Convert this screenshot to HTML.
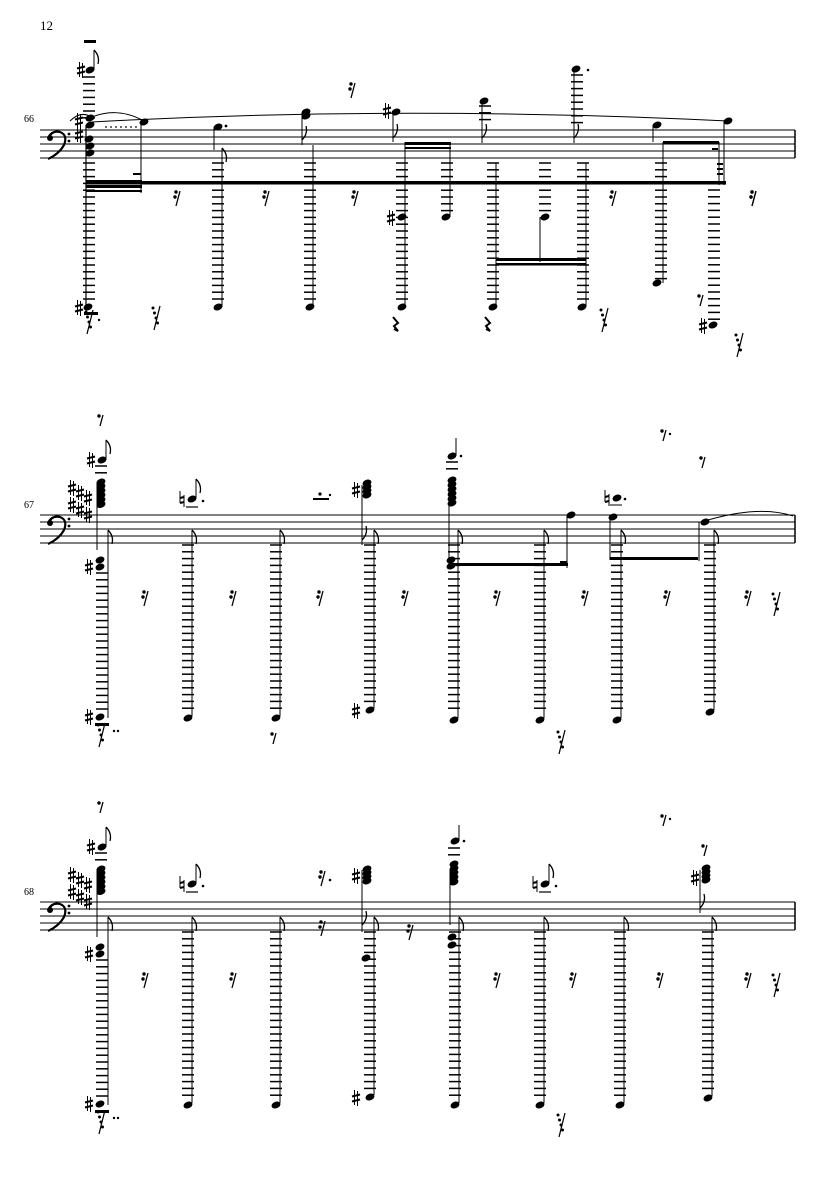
<!DOCTYPE html>
<html><head><meta charset="utf-8">
<style>
html,body{margin:0;padding:0;background:#fff;}
svg{display:block;}
text{font-family:"Liberation Serif","DejaVu Serif",serif;}
</style></head>
<body>
<svg id="s" width="835" height="1181" viewBox="0 0 835 1181" xmlns="http://www.w3.org/2000/svg">
<text x="40" y="30" font-size="13">12</text>
<text x="24" y="122" font-size="10">66</text>
<text x="24" y="508" font-size="10">67</text>
<text x="24" y="895" font-size="10">68</text>
<g id="g"></g>
</svg>
<script>
var g=document.getElementById('g'),o='';
function L(x1,y1,x2,y2,w){o+='<line x1="'+x1+'" y1="'+y1+'" x2="'+x2+'" y2="'+y2+'" stroke="#000" stroke-width="'+(w||1)+'"/>';}
function R(x,y,w,h){o+='<rect x="'+x+'" y="'+y+'" width="'+w+'" height="'+h+'" fill="#000"/>';}
function H(x,y){o+='<ellipse cx="'+x+'" cy="'+y+'" rx="4.6" ry="3.3" transform="rotate(-22 '+x+' '+y+')" fill="#000"/>';}
function sh(x,y){L(x-1.5,y-8,x-1.5,y+7,1);L(x+1.5,y-7,x+1.5,y+8,1);L(x-4,y-1.5,x+4,y-3.5,2);L(x-4,y+3.5,x+4,y+1.5,2);}
function nat(x,y){L(x-2,y-8,x-2,y+4,1);L(x+2,y-4,x+2,y+8,1);L(x-2,y-1,x+2,y-2,2);L(x-2,y+4,x+2,y+3,2);}
function led(x,y1,y2){for(var y=y1;y<=y2;y+=6.8)L(x-6,y,x+6,y,1.5);}
function flag(x,y,d){o+='<path d="M'+x+' '+y+' q6 '+(6*d)+' 4 '+(14*d)+'" stroke="#000" stroke-width="1.3" fill="none"/>';}
function r16(x,y){L(x+3,y-7,x-1,y+8,1.3);o+='<circle cx="'+(x-1)+'" cy="'+(y-6)+'" r="1.7"/><circle cx="'+(x-2)+'" cy="'+(y-1)+'" r="1.7"/>';}
function r8(x,y){L(x+3,y-5,x,y+6,1.3);o+='<circle cx="'+(x-1)+'" cy="'+(y-4)+'" r="1.7"/>';}
function r32(x,y){L(x+5,y-12,x-1,y+12,1.2);for(var i=0;i<4;i++)o+='<circle cx="'+(x-1+i*1.5-1)+'" cy="'+(y-10+i*5)+'" r="1.5"/>';}
function rq(x,y){o+='<path d="M'+(x-2)+' '+(y-8)+' l5 6 l-4 3 l4 5 l-4 -2" stroke="#000" stroke-width="2" fill="none"/>';}
function staff(t){for(var i=0;i<5;i++)L(40,t+i*7,795,t+i*7,1);L(795,t,795,t+28,1.5);
 o+='<path d="M48 '+(t+8)+' q4 -8 12 -6 q8 3 4 13 q-5 9 -16 14" stroke="#000" stroke-width="2.2" fill="none"/><circle cx="50" cy="'+(t+8)+'" r="3"/><circle cx="69" cy="'+(t+4)+'" r="1.4"/><circle cx="69" cy="'+(t+11)+'" r="1.4"/>';}

/* ---------- STAFF 1 ---------- */
staff(130);
R(84,40,12,3);
H(90,70);sh(81,70);L(94,70,94,50);flag(94,50,1);led(89,77,122);
H(90,118);H(90,125);H(89,139);H(90,146);H(90,153);sh(79,121);sh(79,135);
o+='<path d="M70 121 q12 -12 24 -2" stroke="#000" fill="none"/>';
o+='<path d="M92 117 q25 -10 50 3" stroke="#000" fill="none"/>';
for(var i=0;i<7;i++)o+='<circle cx="'+(106+i*5)+'" cy="127" r="0.9"/>';
H(144,122);L(141,122,141,193,1);R(133,173,8,2);
R(86,180,56,3);R(86,185,56,3);R(86,190,56,2);
L(86,125,86,308,1.2);led(89,163,302);H(88,307);sh(79,308);
R(84,312,14,3);r32(88,322);o+='<circle cx="99" cy="320" r="1.2"/>';r32(155,318);
R(86,181,640,3.5);
o+='<path d="M92 122 Q400 105 728 121" stroke="#000" stroke-width="1" fill="none"/>';
H(218,127);o+='<circle cx="226" cy="126" r="1.4"/>';L(214,127,214,150);
L(222,148,222,307,1);led(218,163,302);flag(222,148,1);H(218,307);
r16(177,198);r16(266,198);r16(355,198);r16(352,90);r16(613,198);r16(753,198);
H(306,112);H(306,116);L(302,113,302,145);flag(302,140,-1);L(313,145,313,307);led(310,163,302);H(310,307);
H(396,112);sh(387,111);L(393,113,393,142);flag(393,138,-1);
R(405,142,46,3);R(405,147,46,2);L(405,142,405,307);led(402,163,302);H(402,307);H(402,217);sh(391,218);
L(450,142,450,217);led(447,163,212);H(446,217);rq(395,325);rq(487,325);
H(484,101);led(485,106,126);L(482,101,482,143);flag(482,138,-1);
L(496,163,496,307);led(493,163,302);H(493,307);
R(496,258,90,3);R(496,263,90,2.5);L(540,217,540,262);led(545,163,212);H(545,217);
H(576,69);o+='<circle cx="588" cy="70" r="1.3"/>';led(577,75,126);L(574,69,574,143);flag(574,138,-1);
L(586,163,586,307);led(583,163,302);H(582,307);r32(603,320);
H(657,125);L(653,125,653,142);R(663,141,56,3);L(663,142,663,283);led(661,163,280);H(657,283);
R(712,148,6,2);L(719,142,719,185);R(717,163,6,2);R(717,168,6,2);R(717,173,6,2);
H(728,121);L(724,121,724,185);led(714,190,320);H(713,325);sh(703,326);r8(700,300);r16(753,198);r32(738,345);

/* ---------- STAFF 2/3 ---------- */
function bigcol(t){
 r8(100,t-95);H(102,t-55);sh(91,t-55);L(106,t-55,106,t-75);flag(106,t-75,1);
 led(101,t-49,t-36);
 for(var k=0;k<6;k++)H(101,t-33+k*4.5);
 sh(72,t-27);sh(80,t-22);sh(88,t-17);sh(72,t-10);sh(80,t-5);sh(88,t);
 L(97,t-33,97,t+35,1);L(108,t+15,108,t+203);flag(108,t+15,1);
 H(100,t+45);H(100,t+52);sh(89,t+52);led(102,t+58,t+198);H(100,t+202);sh(89,t+202);
 R(95,t+208,14,3);r32(100,t+220);o+='<circle cx="114" cy="'+(t+216)+'" r="1.2"/><circle cx="118" cy="'+(t+216)+'" r="1.2"/>';
}
function simple(x,t,yb){L(x+4,t+15,x+4,yb,1);flag(x+4,t+15,1);led(x,t+30,yb-4);H(x,yb+2);}
function upnat(x,y){H(x,y);nat(x-10,y);L(x+4,y,x+4,y-20);flag(x+4,y-20,1);o+='<circle cx="'+(x+11)+'" cy="'+(y+2)+'" r="1.3"/>';L(x-6,y+8,x+6,y+8,1.2);}
staff(515);bigcol(515);
upnat(192,499);simple(188,515,716);
simple(276,515,716);r8(273,738);
R(313,498,16,2);o+='<circle cx="320" cy="494" r="1.6"/><circle cx="330" cy="495" r="1.2"/>';
for(var k=0;k<4;k++)H(367,483+k*4);sh(356,490);L(362,485,362,545);flag(362,540,-1);
simple(370,515,708);sh(356,711);
[145,233,320,405,497,585,667,748].forEach(function(x){r16(x,598);});
H(452,456);o+='<circle cx="461" cy="456" r="1.3"/>';L(456,456,456,438);led(452,462,475);
for(var k=0;k<6;k++)H(452,480+k*4.6);L(449,484,449,567);H(451,560);H(451,566);
simple(454,515,718);R(454,563,114,3);
H(571,515);L(567,515,567,568);R(560,561,7,2);simple(540,515,718);r32(560,742);
H(617,498);nat(607,498);o+='<circle cx="625" cy="499" r="1.3"/>';L(610,505,622,505);
H(613,517);L(610,517,610,560);R(610,557,88,3);simple(617,515,718);
H(705,522);L(699,522,699,561);simple(710,515,710);
o+='<path d="M708 520 Q760 505 793 516" stroke="#000" fill="none"/>';
r8(663,435);r8(702,462);o+='<circle cx="670" cy="434" r="1.2"/>';r32(775,604);

staff(902);bigcol(902);
upnat(192,884);simple(188,902,1103);simple(276,902,1103);
r16(322,928);r16(322,878);o+='<circle cx="330" cy="880" r="1.3"/>';
for(var k=0;k<4;k++)H(367,869+k*4);sh(356,876);L(362,870,362,932);flag(362,925,-1);
simple(370,902,1095);H(366,958);sh(356,1098);r16(410,932);
H(455,841);o+='<circle cx="464" cy="841" r="1.3"/>';L(459,841,459,825);led(454,848,858);
for(var k=0;k<5;k++)H(454,864+k*4.5);L(450,870,450,925);H(452,937);H(452,945);
simple(455,902,1103);
upnat(545,884);simple(540,902,1103);simple(620,902,1103);
for(var k=0;k<4;k++)H(706,868+k*4);sh(695,878);L(700,870,700,913);flag(700,908,-1);
simple(708,902,1096);r8(704,850);r8(663,820);o+='<circle cx="670" cy="819" r="1.2"/>';
[145,233,497,573,660,748].forEach(function(x){r16(x,980);});
r32(560,1125);r32(775,985);
g.innerHTML=o;
</script>
</body></html>
